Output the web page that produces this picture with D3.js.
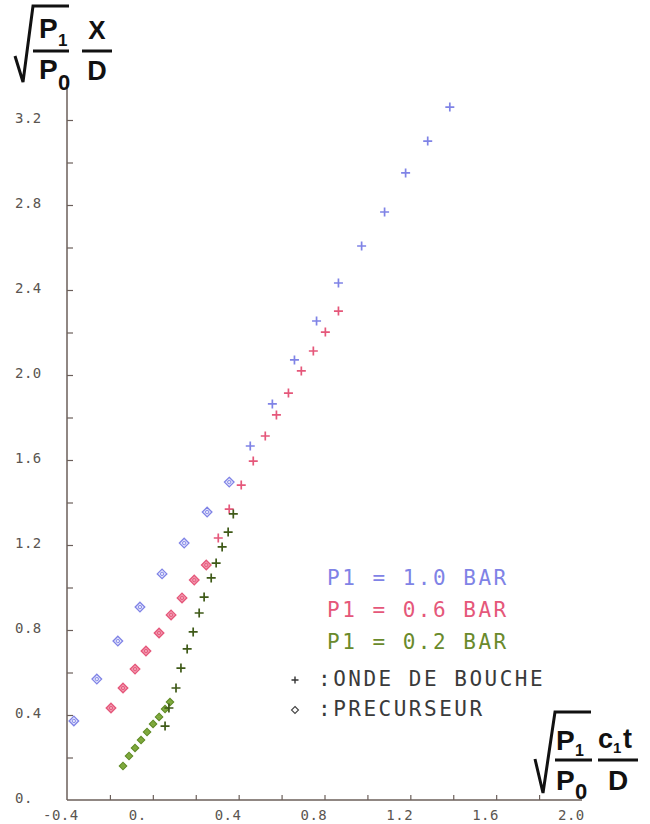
<!DOCTYPE html>
<html>
<head>
<meta charset="utf-8">
<script src="https://cdn.jsdelivr.net/npm/d3@7"></script>
<style>
  body { margin: 0; background: #fff; }
  svg { display: block; }
  .tick-label { font-family: "DejaVu Sans Mono", monospace; font-size: 14px; letter-spacing: 0.5px; fill: #5a5550; }
  .legend { font-family: "DejaVu Sans Mono", monospace; font-size: 21px; letter-spacing: 2.5px; }
  .title { font-family: "Liberation Sans", Arial, sans-serif; font-weight: bold; fill: #111; }
</style>
</head>
<body>
<script>

// ticks on the axes
var xTickValues = [-0.2, 0, 0.2, 0.4, 0.6, 0.8, 1.0, 1.2, 1.4, 1.6, 1.8];
var xLabelValues = [-0.4, 0, 0.4, 0.8, 1.2, 1.6, 2.0];
var xLabels = ["-0.4", "0.", "0.4", "0.8", "1.2", "1.6", "2.0"];
var yTickValues = [0.2, 0.4, 0.6, 0.8, 1.0, 1.2, 1.4, 1.6, 1.8, 2.0, 2.2, 2.4, 2.6, 2.8, 3.0, 3.2];
var yLabelValues = [0, 0.4, 0.8, 1.2, 1.6, 2.0, 2.4, 2.8, 3.2];
var yLabels = ["0.", "0.4", "0.8", "1.2", "1.6", "2.0", "2.4", "2.8", "3.2"];

// P1 = 1.0 bar
var p10PrecX = [-0.368, -0.261, -0.163, -0.060, 0.043, 0.146, 0.253, 0.356];
var p10PrecY = [0.372, 0.569, 0.748, 0.908, 1.064, 1.209, 1.355, 1.496];
var p10OndeX = [0.454, 0.557, 0.660, 0.763, 0.865, 0.973, 1.080, 1.178, 1.281, 1.384];
var p10OndeY = [1.666, 1.864, 2.071, 2.254, 2.433, 2.607, 2.767, 2.951, 3.101, 3.261];

// P1 = 0.6 bar
var p06PrecX = [-0.195, -0.139, -0.083, -0.032, 0.029, 0.085, 0.136, 0.193, 0.249];
var p06PrecY = [0.433, 0.527, 0.616, 0.701, 0.786, 0.871, 0.951, 1.035, 1.106];
var p06OndeX = [0.305, 0.356, 0.412, 0.468, 0.524, 0.576, 0.632, 0.692, 0.748, 0.804, 0.865];
var p06OndeY = [1.233, 1.369, 1.482, 1.595, 1.713, 1.812, 1.915, 2.019, 2.113, 2.202, 2.301];

// P1 = 0.2 bar
var p02PrecX = [-0.139, -0.111, -0.083, -0.055, -0.027, 0.001, 0.029, 0.057, 0.080];
var p02PrecY = [0.160, 0.207, 0.245, 0.282, 0.320, 0.358, 0.391, 0.428, 0.461];
var p02OndeX = [0.057, 0.075, 0.108, 0.131, 0.160, 0.188, 0.216, 0.239, 0.272, 0.295, 0.323, 0.351, 0.375];
var p02OndeY = [0.348, 0.433, 0.527, 0.621, 0.711, 0.791, 0.880, 0.955, 1.045, 1.115, 1.191, 1.261, 1.346];

var legendLabels = ["P1 = 1.0 BAR", "P1 = 0.6 BAR", "P1 = 0.2 BAR"];
var legendColors = ["#7f83e6", "#e5577a", "#6a8a2c"];

var width = 650, height = 824;

var svg = d3.select("body")
			.append("svg")
			.attr("width", width)
			.attr("height", height);

var xScale = d3.scaleLinear()
				.domain([-0.4, 2.0])
				.range([67, 582]);

var yScale = d3.scaleLinear()
				.domain([0, 3.2])
				.range([800, 120]);

var axisColor = "#6b5f5a";

// x axis, small ticks pointing up
var xAxis = svg.append("g")
				.attr("transform", "translate(0," + yScale(0) + ")")
				.call(d3.axisBottom(xScale).tickValues(xTickValues).tickSizeInner(-5).tickSizeOuter(0).tickFormat(""));

// y axis, small ticks pointing right
var yAxis = svg.append("g")
				.attr("transform", "translate(" + xScale(-0.4) + ",0)")
				.call(d3.axisLeft(yScale).tickValues(yTickValues).tickSizeInner(-6).tickSizeOuter(0).tickFormat(""));

svg.selectAll(".domain").remove();
svg.selectAll(".tick line").attr("stroke", axisColor).attr("stroke-width", 1.2);

// axis lines
svg.append("line")
   .attr("x1", xScale(-0.4)).attr("x2", xScale(2.0))
   .attr("y1", yScale(0)).attr("y2", yScale(0))
   .attr("stroke", axisColor).attr("stroke-width", 1.5);
svg.append("line")
   .attr("x1", xScale(-0.4)).attr("x2", xScale(-0.4))
   .attr("y1", yScale(0)).attr("y2", yScale(3.37))
   .attr("stroke", axisColor).attr("stroke-width", 1.5);

// tick labels
svg.selectAll(".xlab")
	.data(xLabelValues)
	.enter()
	.append("text")
	.attr("class", "tick-label")
	.attr("x", function(d){ return xScale(d) - 24; })
	.attr("y", 820)
	.text(function(d, i){ return xLabels[i]; });

svg.selectAll(".ylab")
	.data(yLabelValues)
	.enter()
	.append("text")
	.attr("class", "tick-label")
	.attr("x", 15)
	.attr("y", function(d){ return yScale(d) + 3; })
	.text(function(d, i){ return yLabels[i]; });

// markers
function plus(g, xs, ys, color) {
	g.selectAll(null)
	 .data(xs)
	 .enter()
	 .append("path")
	 .attr("transform", function(d, i){ return "translate(" + xScale(d) + "," + yScale(ys[i]) + ")"; })
	 .attr("d", "M-4.5,0H4.5M0,-4.5V4.5")
	 .attr("stroke", color)
	 .attr("stroke-width", 1.7)
	 .attr("fill", "none");
}

function diamond(g, xs, ys, stroke, fill, s) {
	var pts = g.selectAll(null)
	 .data(xs)
	 .enter()
	 .append("g")
	 .attr("transform", function(d, i){ return "translate(" + xScale(d) + "," + yScale(ys[i]) + ")"; });
	pts.append("path")
	 .attr("d", "M0," + (-s) + "L" + s + ",0L0," + s + "L" + (-s) + ",0Z")
	 .attr("stroke", stroke)
	 .attr("stroke-width", 1.3)
	 .attr("fill", fill);
	pts.append("circle")
	 .attr("r", s * 0.35)
	 .attr("fill", "none")
	 .attr("stroke", stroke)
	 .attr("stroke-width", 0.9);
}

var marks = svg.append("g");
diamond(marks, p10PrecX, p10PrecY, "#7f83e6", "#e4e5fb", 4.8);
plus(marks, p10OndeX, p10OndeY, "#7f83e6");
diamond(marks, p06PrecX, p06PrecY, "#e5577a", "#f29ab0", 4.8);
plus(marks, p06OndeX, p06OndeY, "#e5577a");
diamond(marks, p02PrecX, p02PrecY, "#5f8a25", "#a5cf5a", 3.6);
plus(marks, p02OndeX, p02OndeY, "#3f5a18");

// legend
svg.selectAll(".leg")
	.data(legendLabels)
	.enter()
	.append("text")
	.attr("class", "legend")
	.attr("x", 327)
	.attr("y", function(d, i){ return 585 + i * 32; })
	.attr("fill", function(d, i){ return legendColors[i]; })
	.text(function(d){ return d; });

svg.append("text").attr("class", "legend").attr("x", 318).attr("y", 686).attr("fill", "#3a3a3a").text(":ONDE DE BOUCHE");
svg.append("text").attr("class", "legend").attr("x", 318).attr("y", 716).attr("fill", "#3a3a3a").text(":PRECURSEUR");
svg.append("path").attr("transform", "translate(295,680)").attr("d", "M-3.5,0H3.5M0,-3.5V3.5")
   .attr("stroke", "#333").attr("stroke-width", 1.4);
svg.append("path").attr("transform", "translate(295,710)").attr("d", "M0,-3.5L3.5,0L0,3.5L-3.5,0Z")
   .attr("stroke", "#444").attr("stroke-width", 1.1).attr("fill", "none");

// title of the y axis: sqrt(P1/P0) X/D
var ty = svg.append("g").attr("class", "title");
ty.append("path").attr("d", "M15,56L23,82L33,6L69,6").attr("stroke", "#111").attr("stroke-width", 3).attr("fill", "none");
ty.append("line").attr("x1", 33).attr("x2", 69).attr("y1", 51).attr("y2", 51).attr("stroke", "#111").attr("stroke-width", 3);
ty.append("text").attr("x", 39).attr("y", 38).attr("font-size", 28).text("P");
ty.append("text").attr("x", 58).attr("y", 46).attr("font-size", 17).text("1");
ty.append("text").attr("x", 39).attr("y", 79).attr("font-size", 28).text("P");
ty.append("text").attr("x", 58).attr("y", 90).attr("font-size", 22).text("0");
ty.append("text").attr("x", 97).attr("y", 39).attr("font-size", 26).attr("text-anchor", "middle").text("X");
ty.append("line").attr("x1", 82).attr("x2", 112).attr("y1", 51).attr("y2", 51).attr("stroke", "#111").attr("stroke-width", 3);
ty.append("text").attr("x", 97).attr("y", 80).attr("font-size", 27).attr("text-anchor", "middle").text("D");

// title of the x axis: sqrt(P1/P0) c1t/D
var tx = svg.append("g").attr("class", "title");
tx.append("path").attr("d", "M535,759L543,793L555,712L591,712").attr("stroke", "#111").attr("stroke-width", 3).attr("fill", "none");
tx.append("line").attr("x1", 555).attr("x2", 592).attr("y1", 760).attr("y2", 760).attr("stroke", "#111").attr("stroke-width", 3);
tx.append("text").attr("x", 556).attr("y", 750).attr("font-size", 28).text("P");
tx.append("text").attr("x", 575).attr("y", 756).attr("font-size", 16).text("1");
tx.append("text").attr("x", 556).attr("y", 790).attr("font-size", 28).text("P");
tx.append("text").attr("x", 575).attr("y", 799).attr("font-size", 22).text("0");
tx.append("text").attr("x", 598).attr("y", 748).attr("font-size", 27).text("c");
tx.append("text").attr("x", 613).attr("y", 753).attr("font-size", 15).text("1");
tx.append("text").attr("x", 623).attr("y", 748).attr("font-size", 27).text("t");
tx.append("line").attr("x1", 598).attr("x2", 638).attr("y1", 760).attr("y2", 760).attr("stroke", "#111").attr("stroke-width", 3);
tx.append("text").attr("x", 618).attr("y", 790).attr("font-size", 28).attr("text-anchor", "middle").text("D");

</script>
</body>
</html>
